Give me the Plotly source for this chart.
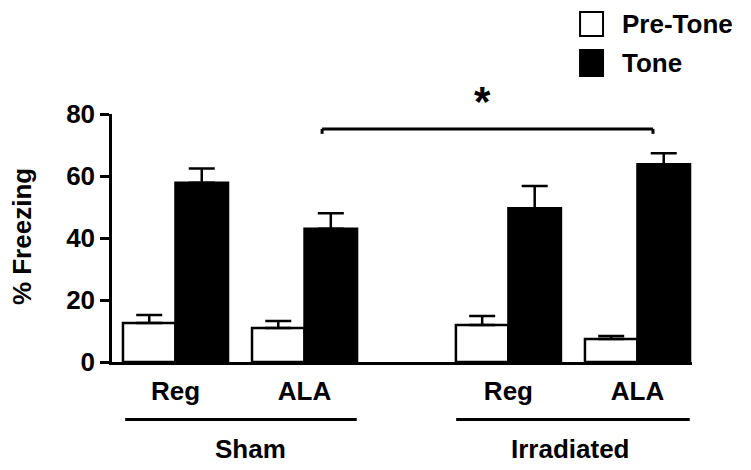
import plotly.graph_objects as go

# ---- data ----
groups = ["Sham", "Irradiated"]
conditions = ["Reg", "ALA", "Reg", "ALA"]
series_names = ["Pre-Tone", "Tone"]
pre_tone = [12.6, 11.0, 11.9, 7.4]
pre_tone_err = [2.6, 2.2, 2.9, 1.0]
tone = [57.8, 43.0, 49.6, 63.8]
tone_err = [4.6, 5.0, 7.2, 3.5]
y_ticks = [0, 20, 40, 60, 80]
y_title = "% Freezing"
sig_label = "*"

# ---- layout constants ----
x_pos = [0, 1, 2.58, 3.58]
FONT = "Arial, Liberation Sans, Helvetica, sans-serif"
FS = 26
LW = 2.5

fig = go.Figure()
fig.add_trace(go.Bar(
    x=x_pos, y=pre_tone, name=series_names[0],
    marker=dict(color="white", line=dict(color="black", width=LW)),
    error_y=dict(type="data", array=pre_tone_err, arrayminus=[0] * 4, symmetric=False,
                 color="black", thickness=LW, width=13),
    showlegend=False,
))
fig.add_trace(go.Bar(
    x=x_pos, y=tone, name=series_names[1],
    marker=dict(color="black", line=dict(color="black", width=LW)),
    error_y=dict(type="data", array=tone_err, arrayminus=[0] * 4, symmetric=False,
                 color="black", thickness=LW, width=13),
    showlegend=False,
))

shapes = []
# significance bracket
bx0, bx1, by, bdrop = 1.136, 3.70, 75.2, 1.6
shapes.append(dict(type="line", xref="x", yref="y", x0=bx0, x1=bx1, y0=by, y1=by,
                   line=dict(color="black", width=3)))
shapes.append(dict(type="line", xref="x", yref="y", x0=bx0, x1=bx0, y0=by, y1=by - bdrop,
                   line=dict(color="black", width=3)))
shapes.append(dict(type="line", xref="x", yref="y", x0=bx1, x1=bx1, y0=by, y1=by - bdrop,
                   line=dict(color="black", width=3)))
# group underlines
group_spans = [(-0.39, 1.405), (2.175, 3.985)]
for x0, x1 in group_spans:
    shapes.append(dict(type="line", xref="x", yref="paper", x0=x0, x1=x1, y0=-0.232, y1=-0.232,
                       line=dict(color="black", width=3)))
# legend boxes
legend_boxes = [(1.411, 1.315, "white"), (1.258, 1.153, "black")]
for y0, y1, fill in legend_boxes:
    shapes.append(dict(type="rect", xref="paper", yref="paper", x0=0.807, x1=0.8466,
                       y0=y1, y1=y0, fillcolor=fill, line=dict(color="black", width=2)))

annotations = []
group_label_x = [0.58, 3.06]
for g, gx in zip(groups, group_label_x):
    annotations.append(dict(text=f"<b>{g}</b>", x=gx, xref="x", y=-0.351, yref="paper",
                            showarrow=False, font=dict(family=FONT, size=FS, color="black"),
                            xanchor="center", yanchor="middle"))
annotations.append(dict(text=f"<b>{y_title}</b>", x=-0.155, xref="paper", y=0.504, yref="paper",
                        textangle=-90, showarrow=False,
                        font=dict(family=FONT, size=FS, color="black"),
                        xanchor="center", yanchor="middle"))
annotations.append(dict(text=f"<b>{sig_label}</b>", x=2.376, xref="x", y=1.05, yref="paper",
                        showarrow=False, font=dict(family=FONT, size=42, color="black"),
                        xanchor="center", yanchor="middle"))
for name, ly in zip(series_names, [1.361, 1.206]):
    annotations.append(dict(text=f"<b>{name}</b>", x=0.876, xref="paper", y=ly, yref="paper",
                            showarrow=False, font=dict(family=FONT, size=FS, color="black"),
                            xanchor="left", yanchor="middle"))

fig.update_layout(
    width=743, height=462,
    margin=dict(l=104, r=59, t=106, b=108),
    plot_bgcolor="white", paper_bgcolor="white",
    barmode="group", bargap=0.186, bargroupgap=0,
    font=dict(family=FONT, size=FS, color="black"),
    shapes=shapes, annotations=annotations,
    xaxis=dict(range=[-0.492, 4.0025], tickvals=x_pos,
               ticktext=[f"<b>{c}</b>" for c in conditions],
               showline=True, linecolor="black", linewidth=LW, ticks="",
               showgrid=False, zeroline=False, ticklabelstandoff=4,
               tickfont=dict(family=FONT, size=FS, color="black")),
    yaxis=dict(range=[0, 80], tickvals=y_ticks,
               ticktext=[f"<b>{t}</b>" for t in y_ticks],
               showline=True, linecolor="black", linewidth=LW,
               ticks="outside", ticklen=9, tickwidth=LW, tickcolor="black",
               showgrid=False, zeroline=False,
               tickfont=dict(family=FONT, size=FS, color="black")),
)

fig.write_html("out.html")
